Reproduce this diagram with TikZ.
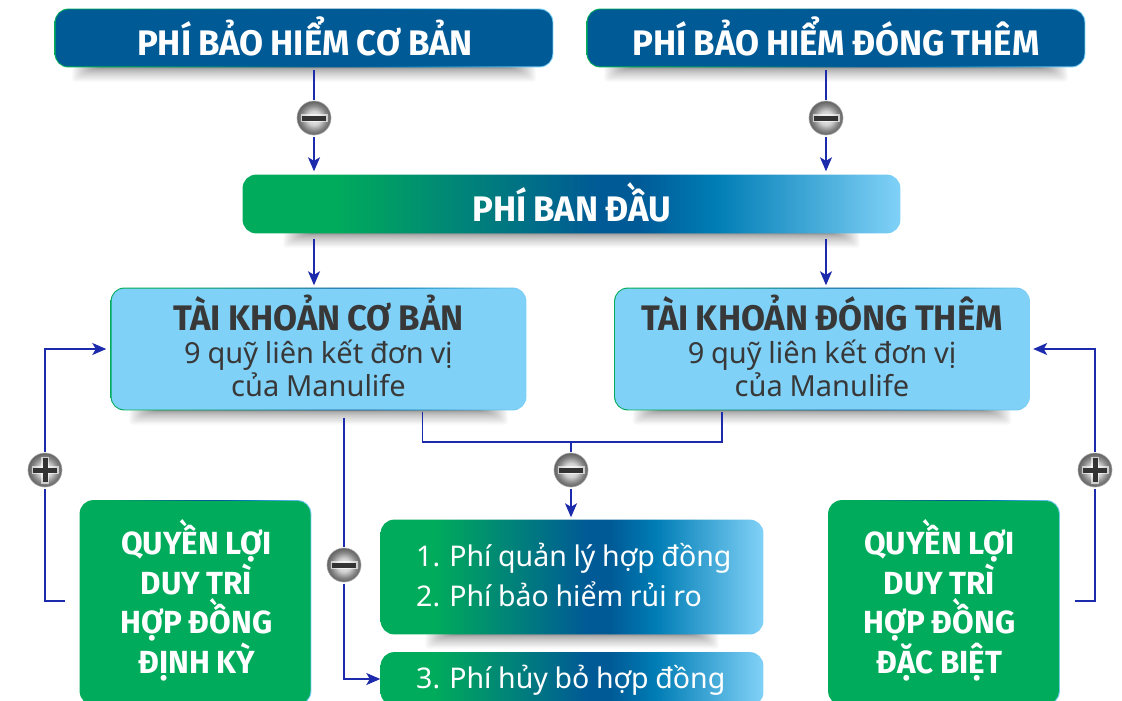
\documentclass[tikz,border=0pt]{standalone}
\usepackage{fontspec}
\setmainfont[WordSpace=0.9]{Noto Sans}
\newfontfamily\narrowbold[FakeStretch=0.98,WordSpace=0.85]{Fira Sans}
\usetikzlibrary{arrows.meta}
\usetikzlibrary{backgrounds}
\usetikzlibrary{calc}
\definecolor{navy}{HTML}{005A96}
\definecolor{leaf}{HTML}{00AB5B}
\definecolor{sky}{HTML}{80D1F7}
\definecolor{ocean}{HTML}{007DB5}
\definecolor{linkblue}{HTML}{1C2BAB}
\pgfdeclarehorizontalshading{feegrad}{100bp}{color(0bp)=(leaf); color(32bp)=(leaf); color(52bp)=(navy); color(55bp)=(navy); color(61bp)=(ocean); color(75bp)=(sky); color(100bp)=(sky)}
\pgfdeclareradialshading{badgeball}{\pgfpoint{0bp}{0bp}}{color(0bp)=(white!92!black); color(10bp)=(white!82!black); color(19bp)=(black!48); color(25bp)=(black!62); color(50bp)=(black!62)}
\tikzset{
  box/.style={rounded corners=13pt,inner sep=0pt,text=white,align=center},
  headbox/.style={box,fill=navy,minimum width=497pt,minimum height=57pt},
  headtext/.style={text=white,inner sep=0pt,font=\narrowbold\bfseries\fontsize{35.5}{35.5}\selectfont},
  feebox/.style={box,shading=feegrad},
  feetext/.style={text=white,inner sep=0pt,align=flush left,anchor=west,font=\fontsize{28.5}{39.5}\selectfont},
  acctbox/.style={box,fill=sky,minimum width=414pt,minimum height=121pt},
  accttext/.style={text=black!78,inner sep=0pt,align=center,font=\fontsize{29}{33}\selectfont},
  rightsbox/.style={box,fill=leaf,minimum width=230pt,minimum height=203pt},
  rightstext/.style={text=white,inner sep=0pt,align=center,font=\narrowbold\bfseries\fontsize{32}{39.5}\selectfont},
  badge/.style={circle,minimum size=34pt,inner sep=0pt,outer sep=1.5pt,shading=badgeball,draw=black!35,line width=.6pt},
  minusbadge/.style={badge,path picture={
    \fill[white,opacity=.6] ([shift={(-13.5pt,-4pt)}]path picture bounding box.center) rectangle ++(27pt,8pt);
    \fill[black!80] ([shift={(-12pt,-2.5pt)}]path picture bounding box.center) rectangle ++(24pt,5pt);}},
  plusbadge/.style={badge,path picture={
    \fill[white,opacity=.6] ([shift={(-13.5pt,-4pt)}]path picture bounding box.center) rectangle ++(27pt,8pt);
    \fill[white,opacity=.6] ([shift={(-4pt,-13.5pt)}]path picture bounding box.center) rectangle ++(8pt,27pt);
    \fill[black!80] ([shift={(-12pt,-2.5pt)}]path picture bounding box.center) rectangle ++(24pt,5pt);
    \fill[black!80] ([shift={(-2.5pt,-12pt)}]path picture bounding box.center) rectangle ++(5pt,24pt);}},
  link/.style={draw=linkblue,line width=1.5pt},
  arrowlink/.style={link,-{Stealth[length=14pt,width=12pt,inset=3.5pt]}}
}
% shadow and thin edge behind a box
\newcommand{\boxback}[2]{
  \begin{scope}[on background layer]
    \foreach \i in {0,...,19} {
      \fill[black,opacity=.027,rounded corners=3pt]
        ([xshift=#2pt+\i*1.5pt]#1.south west) rectangle ([xshift=-#2pt-\i*1.5pt,yshift=-1pt-14pt*(1-\i/20)*(1-\i/20)]#1.south east);
    }
    \shade[shading=feegrad,rounded corners=13.6pt]
      ([shift={(-.7pt,.7pt)}]#1.north west) rectangle ([shift={(.7pt,-.7pt)}]#1.south east);
  \end{scope}
}
\begin{document}
\begin{tikzpicture}[x=1pt,y=-1pt]
  \useasboundingbox (0,0) rectangle (1122,701);
  \clip (0,0) rectangle (1122,701);

  \node[headbox] (headbase) at (304,38) {};
  \node[headbox] (headextra) at (836,38) {};
  \node[box,shading=feegrad,minimum width=656pt,minimum height=57pt] (initfee) at (571.5,204) {};
  \node[headtext] (headbasetext) at (305,36) {PHÍ BẢO HIỂM CƠ BẢN};
  \node[headtext] (headextratext) at (836,36) {PHÍ BẢO HIỂM ĐÓNG THÊM};
  \node[headtext] (initfeetext) at (571.5,202.5) {PHÍ BAN ĐẦU};

  \node[acctbox] (acctbase) at (318.5,349) {};
  \node[acctbox] (acctextra) at (822,349) {};
  \node[accttext] (acctbasetext) at (318.5,346) {{\narrowbold\bfseries\fontsize{35.5}{36}\selectfont TÀI KHOẢN CƠ BẢN}\\9 quỹ liên kết đơn vị\\của Manulife};
  \node[accttext] (acctextratext) at (822,346) {{\narrowbold\bfseries\fontsize{35.5}{36}\selectfont TÀI KHOẢN ĐÓNG THÊM}\\9 quỹ liên kết đơn vị\\của Manulife};

  \node[rightsbox] (rightsregular) at (195.5,602.5) {};
  \node[rightsbox] (rightsspecial) at (944,602.5) {};
  \node[rightstext] (rightsregulartext) at (196.5,600.5) {QUYỀN LỢI\\DUY TRÌ\\HỢP ĐỒNG\\ĐỊNH KỲ};
  \node[rightstext] (rightsspecialtext) at (939.5,600.5) {QUYỀN LỢI\\DUY TRÌ\\HỢP ĐỒNG\\ĐẶC BIỆT};

  \node[feebox,minimum width=381pt,minimum height=113pt] (feeone) at (572,577) {};
  \node[feebox,minimum width=381pt,minimum height=52pt] (feetwo) at (572,679) {};
  \node[feetext] (feeonetext) at (416,575) {1. Phí quản lý hợp đồng\\2. Phí bảo hiểm rủi ro};
  \node[feetext] (feetwotext) at (416,680) {3. Phí hủy bỏ hợp đồng};

  \boxback{headbase}{17}
  \boxback{headextra}{17}
  \boxback{initfee}{40}
  \boxback{acctbase}{18}
  \boxback{acctextra}{18}
  \boxback{feeone}{44}
  \boxback{rightsregular}{400}
  \boxback{rightsspecial}{400}
  \boxback{feetwo}{400}

  \node[minusbadge] (minusbase) at (314,118) {};
  \node[minusbadge] (minusextra) at (826,118) {};
  \node[minusbadge] (minusfee) at (571,470) {};
  \node[minusbadge] (minussurr) at (344,565) {};
  \node[plusbadge] (plusregular) at (45,470) {};
  \node[plusbadge] (plusspecial) at (1095,470) {};

  \coordinate (joinfee) at (571,442);
  \coordinate (endregular) at (65,601);
  \coordinate (endspecial) at (1075,601);

  \draw[link,shorten <=3pt] (headbase.south -| minusbase) -- (minusbase);
  \draw[arrowlink,shorten >=4pt] (minusbase) -- (minusbase |- initfee.north);
  \draw[link,shorten <=3pt] (headextra.south -| minusextra) -- (minusextra);
  \draw[arrowlink,shorten >=4pt] (minusextra) -- (minusextra |- initfee.north);

  \draw[arrowlink,shorten <=6pt,shorten >=3pt] (initfee.south -| minusbase) -- (minusbase |- acctbase.north);
  \draw[arrowlink,shorten <=6pt,shorten >=3pt] (initfee.south -| minusextra) -- (minusextra |- acctextra.north);

  \draw[link,shorten <=2pt,shorten >=2pt] ($(acctbase.south west)+(311,0)$) |- (joinfee) -| ($(acctextra.south west)+(107,0)$);
  \draw[link] (joinfee) -- (minusfee);
  \draw[arrowlink,shorten >=3pt] (minusfee) -- (minusfee |- feeone.north);

  \draw[link,shorten <=8pt] (acctbase.south -| minussurr) -- (minussurr);
  \draw[arrowlink,shorten >=1pt] (minussurr) |- (feetwo.west);

  \draw[link] (endregular) -| (plusregular);
  \draw[arrowlink,shorten >=5pt] (plusregular) |- (acctbase.west);
  \draw[link] (endspecial) -| (plusspecial);
  \draw[arrowlink,shorten >=4pt] (plusspecial) |- (acctextra.east);
\end{tikzpicture}
\end{document}
